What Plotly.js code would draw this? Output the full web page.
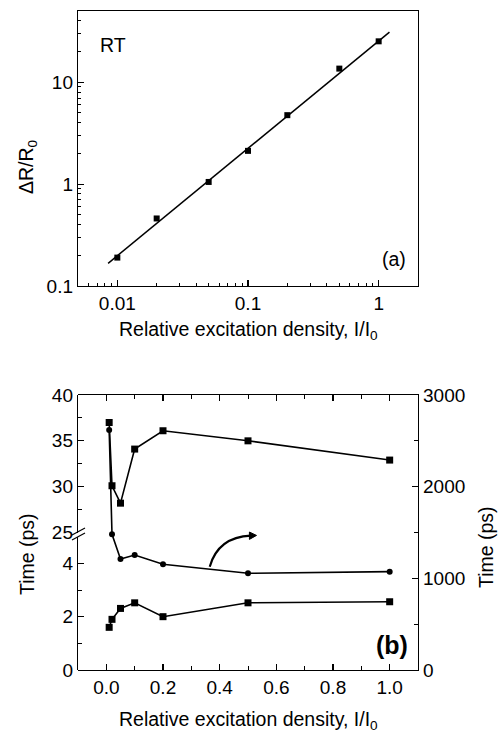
<!DOCTYPE html>
<html>
<head>
<meta charset="utf-8">
<script src="https://cdn.plot.ly/plotly-3.0.1.min.js"></script>
<style>html,body{margin:0;padding:0;background:#fff;}#chart{width:499px;height:736px;}</style>
</head>
<body>
<div id="chart"></div>
<script>
// ---- Panel (a): ΔR/R0 vs relative excitation density (log-log) ----
var densityA = [0.01, 0.02, 0.05, 0.1, 0.2, 0.5, 1.0];
var dRR0 = [0.19, 0.46, 1.05, 2.12, 4.75, 13.6, 25.2];
var fitX = [0.0085, 1.21];
var fitY = [0.167, 31];

// ---- Panel (b): time constants vs relative excitation density ----
var densityB = [0.01, 0.02, 0.05, 0.1, 0.2, 0.5, 1.0];
var tauSlow = [37.0, 30.1, 28.2, 34.1, 36.1, 35.0, 32.9];     // ps, left axis upper segment
var tauFast = [1.6, 1.9, 2.31, 2.52, 2.0, 2.52, 2.56];         // ps, left axis lower segment
var tauLong = [2618, 1480, 1211, 1254, 1153, 1055, 1073];      // ps, right axis

var FONT = 'Liberation Sans, Arial, Helvetica, sans-serif';
var black = '#000';

// figure geometry (paper units)
var L = 78, R = 81, T = 11, B = 66, H = 736, W = 499;
var plotH = H - T - B, plotW = W - L - R;
function py(p) { return (H - B - p) / plotH; }
function px(p) { return (p - L) / plotW; }

var traces = [
  {x: fitX, y: fitY, xaxis: 'x', yaxis: 'y', mode: 'lines',
   line: {color: black, width: 1.5}, hoverinfo: 'skip'},
  {x: densityA, y: dRR0, xaxis: 'x', yaxis: 'y', mode: 'markers',
   marker: {symbol: 'square', size: 6, color: black}},
  {x: densityB, y: tauSlow, xaxis: 'x2', yaxis: 'y3', mode: 'lines+markers',
   line: {color: black, width: 1.6}, marker: {symbol: 'square', size: 7, color: black}, cliponaxis: false},
  {x: densityB, y: tauFast, xaxis: 'x2', yaxis: 'y2', mode: 'lines+markers',
   line: {color: black, width: 1.6}, marker: {symbol: 'square', size: 7, color: black}, cliponaxis: false},
  {x: densityB, y: tauLong, xaxis: 'x2', yaxis: 'y4', mode: 'lines+markers',
   line: {color: black, width: 1.6}, marker: {symbol: 'circle', size: 6, color: black}, cliponaxis: false}
];

var tickFont = {family: FONT, size: 19, color: black};
var common = {showline: true, linecolor: black, linewidth: 1.2, ticks: 'inside',
  tickcolor: black, tickwidth: 1.2, showgrid: false, zeroline: false, tickfont: tickFont};

function ax(o) { var r = {}; for (var k in common) r[k] = common[k]; for (var k2 in o) r[k2] = o[k2]; return r; }

var layout = {
  width: W, height: H,
  margin: {l: L, r: R, t: T, b: B},
  paper_bgcolor: '#fff', plot_bgcolor: 'rgba(0,0,0,0)',
  showlegend: false,
  font: {family: FONT, color: black},
  xaxis: ax({type: 'log', domain: [0, 1], anchor: 'y', range: [Math.log10(0.005), Math.log10(2)],
    mirror: true, tickvals: [0.01, 0.1, 1], ticktext: ['0.01', '0.1', '1'], ticklen: 6,
    minor: {dtick: 'D1', ticks: 'inside', ticklen: 3, tickcolor: black, tickwidth: 1}}),
  yaxis: ax({type: 'log', domain: [py(286), 1], anchor: 'x', range: [-1, Math.log10(50)],
    mirror: true, tickvals: [0.1, 1, 10], ticktext: ['0.1', '1', '10'], ticklen: 6,
    minor: {dtick: 'D1', ticks: 'inside', ticklen: 3, tickcolor: black, tickwidth: 1}}),
  xaxis2: ax({domain: [0, 1], anchor: 'y4', range: [-0.1, 1.1], mirror: 'ticks',
    tickvals: [0, 0.2, 0.4, 0.6, 0.8, 1.0], ticktext: ['0.0', '0.2', '0.4', '0.6', '0.8', '1.0'], ticklen: 6,
    minor: {dtick: 0.1, tick0: 0, ticks: 'inside', ticklen: 4, tickcolor: black, tickwidth: 1}}),
  yaxis2: ax({domain: [0, py(536.7)], anchor: 'x2', range: [0, 5], tickvals: [0, 2, 4], ticklen: 6,
    minor: {tickvals: [1, 3], ticks: 'inside', ticklen: 4, tickcolor: black, tickwidth: 1}}),
  yaxis3: ax({domain: [py(532.5), py(395)], anchor: 'x2', range: [25, 40], tickvals: [25, 30, 35, 40], ticklen: 6,
    minor: {tickvals: [27.5, 32.5, 37.5], ticks: 'inside', ticklen: 4, tickcolor: black, tickwidth: 1}}),
  yaxis4: ax({domain: [0, py(395)], anchor: 'x2', side: 'right', range: [0, 3000],
    tickvals: [0, 1000, 2000, 3000], ticklen: 6,
    minor: {tickvals: [500, 1500, 2500], ticks: 'inside', ticklen: 4, tickcolor: black, tickwidth: 1}}),
  shapes: [
    {type: 'line', xref: 'paper', yref: 'paper', x0: px(72), y0: py(535), x1: px(85), y1: py(528),
     line: {color: black, width: 1.2}},
    {type: 'line', xref: 'paper', yref: 'paper', x0: px(72), y0: py(540), x1: px(85), y1: py(533),
     line: {color: black, width: 1.2}},
    {type: 'path', xref: 'x2', yref: 'y4', path: 'M 0.365 1127 Q 0.395 1450 0.51 1465',
     line: {color: black, width: 2.2}},
    {type: 'path', xref: 'x2', yref: 'y4', path: 'M 0.53 1468 L 0.505 1505 L 0.505 1425 Z',
     fillcolor: black, line: {color: black, width: 1}}
  ],
  annotations: [
    {text: 'Relative excitation density, I/I<sub>0</sub>', xref: 'paper', yref: 'paper',
     x: 0.5, y: py(330), xanchor: 'center', yanchor: 'middle', showarrow: false,
     font: {family: FONT, size: 19.5, color: black}},
    {text: 'Relative excitation density, I/I<sub>0</sub>', xref: 'paper', yref: 'paper',
     x: 0.5, y: py(720), xanchor: 'center', yanchor: 'middle', showarrow: false,
     font: {family: FONT, size: 19.5, color: black}},
    {text: 'ΔR/R<sub>0</sub>', xref: 'paper', yref: 'paper', textangle: -90,
     x: px(28), y: py(167), xanchor: 'center', yanchor: 'middle', showarrow: false,
     font: {family: FONT, size: 19.5, color: black}},
    {text: 'Time (ps)', xref: 'paper', yref: 'paper', textangle: -90,
     x: px(27), y: py(554), xanchor: 'center', yanchor: 'middle', showarrow: false,
     font: {family: FONT, size: 19.5, color: black}},
    {text: 'Time (ps)', xref: 'paper', yref: 'paper', textangle: -90,
     x: px(486), y: py(547), xanchor: 'center', yanchor: 'middle', showarrow: false,
     font: {family: FONT, size: 19.5, color: black}},
    {text: 'RT', xref: 'paper', yref: 'paper', x: px(113), y: py(45), xanchor: 'center', yanchor: 'middle',
     showarrow: false, font: {family: FONT, size: 19.5, color: black}},
    {text: '(a)', xref: 'paper', yref: 'paper', x: px(394), y: py(259), xanchor: 'center', yanchor: 'middle',
     showarrow: false, font: {family: FONT, size: 19.5, color: black}},
    {text: '<b>(b)</b>', xref: 'paper', yref: 'paper', x: px(392), y: py(645), xanchor: 'center', yanchor: 'middle',
     showarrow: false, font: {family: FONT, size: 25, color: black}}
  ]
};

Plotly.newPlot('chart', traces, layout, {displayModeBar: false, staticPlot: true});
</script>
</body>
</html>
